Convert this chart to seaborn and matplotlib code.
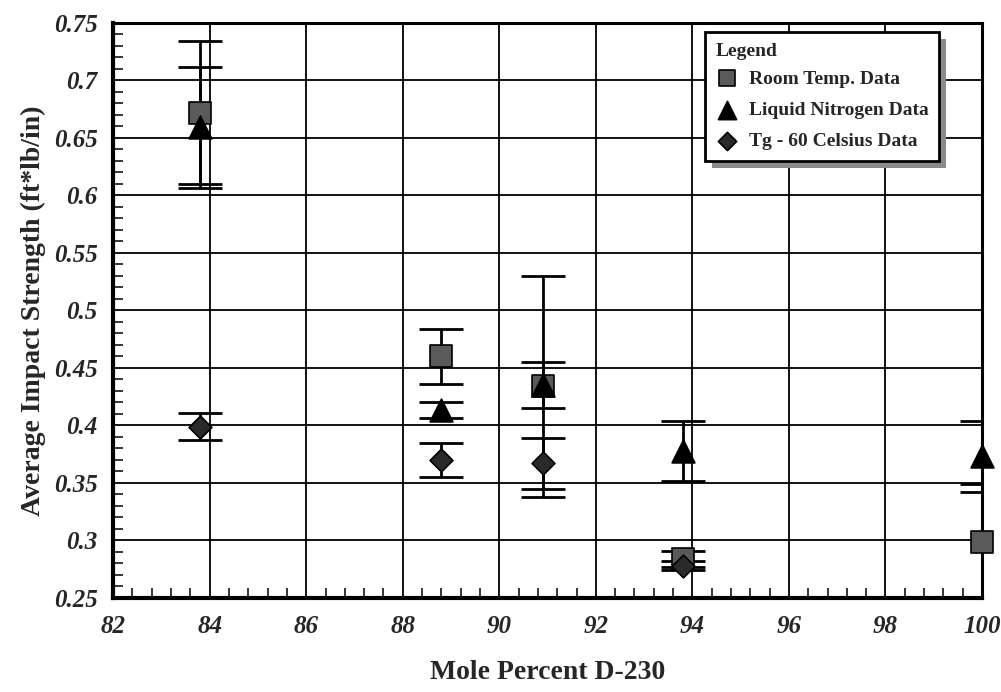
import numpy as np
import pandas as pd
import matplotlib
matplotlib.use('Agg')
import matplotlib.pyplot as plt
from matplotlib.patches import Rectangle
from matplotlib.ticker import AutoMinorLocator
import seaborn as sns

# mole percent D-230 for each sample
mole_pct = [83.8, 88.8, 90.9, 93.8, 100.0]

# average impact strength (ft*lb/in) and error bar half widths
room_temp = [0.672, 0.460, 0.434, 0.284, 0.299]
room_temp_err = [0.062, 0.024, 0.096, 0.007, 0.050]
liquid_n2 = [0.659, 0.413, 0.435, 0.378, 0.373]
liquid_n2_err = [0.053, 0.007, 0.020, 0.026, 0.031]
tg_60 = [0.399, 0.370, 0.367, 0.278, np.nan]
tg_60_err = [0.012, 0.015, 0.022, 0.004, np.nan]

series_names = ['Room Temp. Data', 'Liquid Nitrogen Data', 'Tg - 60 Celsius Data']

df = pd.DataFrame({
    'Mole Percent': mole_pct * 3,
    'Strength': room_temp + liquid_n2 + tg_60,
    'Err': room_temp_err + liquid_n2_err + tg_60_err,
    'Series': sum([[s] * len(mole_pct) for s in series_names], []),
})

sns.set_style('white')
plt.rcParams['font.family'] = ['Liberation Serif', 'DejaVu Serif']

fig = plt.figure(figsize=(10.01, 6.92), dpi=100)
ax = fig.add_axes([0.113, 0.136, 0.868, 0.831])

styles = {
    'Room Temp. Data': dict(marker='s', s=230, color='#5a5a5a'),
    'Liquid Nitrogen Data': dict(marker='^', s=270, color='black'),
    'Tg - 60 Celsius Data': dict(marker='D', s=135, color='#2a2a2a'),
}

# error bars first so the markers sit on top
for name in series_names:
    sub = df[df['Series'] == name].dropna()
    ax.errorbar(sub['Mole Percent'], sub['Strength'], yerr=sub['Err'], fmt='none',
                ecolor='black', elinewidth=2, capsize=16, capthick=2, zorder=3)

for name in series_names:
    sub = df[df['Series'] == name].dropna()
    st = styles[name]
    sns.scatterplot(data=sub, x='Mole Percent', y='Strength', marker=st['marker'],
                    s=st['s'], color=st['color'], edgecolor='black', linewidth=1.2,
                    label=name, ax=ax, zorder=4, clip_on=False)

ax.set_xlim(82, 100)
ax.set_ylim(0.25, 0.75)
ax.set_xticks(np.arange(82, 101, 2))
ax.set_xticklabels([str(v) for v in range(82, 101, 2)])
ax.set_yticks(np.arange(0.25, 0.751, 0.05))
ax.set_yticklabels(['0.25', '0.3', '0.35', '0.4', '0.45', '0.5', '0.55', '0.6', '0.65', '0.7', '0.75'])
ax.xaxis.set_minor_locator(AutoMinorLocator(5))
ax.yaxis.set_minor_locator(AutoMinorLocator(5))

ax.grid(True, which='major', color='black', linewidth=1.3)
ax.tick_params(which='both', direction='in', bottom=True, left=True, top=False, right=False)
ax.tick_params(which='major', length=0)
ax.tick_params(axis='x', which='major', pad=12)
ax.tick_params(axis='y', which='major', pad=11)
ax.tick_params(which='minor', length=7, width=1.3)
for lab in ax.get_xticklabels() + ax.get_yticklabels():
    lab.set_fontsize(18)
    lab.set_fontweight('bold')
    lab.set_fontstyle('italic')

for side, lw in [('left', 3), ('bottom', 3), ('top', 2.2), ('right', 2.2)]:
    ax.spines[side].set_visible(True)
    ax.spines[side].set_color('black')
    ax.spines[side].set_linewidth(lw)

ax.set_xlabel('Mole Percent D-230', fontsize=20, fontweight='bold', labelpad=16)
ax.set_ylabel('Average Impact Strength (ft*lb/in)', fontsize=20, fontweight='bold', labelpad=6)

leg = ax.legend(title='Legend', loc='upper right', bbox_to_anchor=(0.955, 0.99),
                borderaxespad=0.2, frameon=True, fancybox=False, edgecolor='black',
                framealpha=1, prop={'weight': 'bold', 'size': 14}, labelspacing=0.7,
                handletextpad=0.5, borderpad=0.55, handlelength=1.2,
                markerscale=0.8)
leg.get_title().set_fontweight('bold')
leg.get_title().set_fontsize(14)
leg._legend_box.align = 'left'
leg._legend_box.sep = 7
leg.get_frame().set_linewidth(2)
leg.set_zorder(10)

# grey drop shadow for the legend box
fig.canvas.draw()
bb = leg.get_frame().get_window_extent().transformed(fig.transFigure.inverted())
ax.add_patch(Rectangle((bb.x0 + 0.007, bb.y0 - 0.010), bb.width, bb.height,
                       transform=fig.transFigure, facecolor='#8a8a8a',
                       edgecolor='none', zorder=9, clip_on=False))

plt.savefig('out.png', dpi=100)
